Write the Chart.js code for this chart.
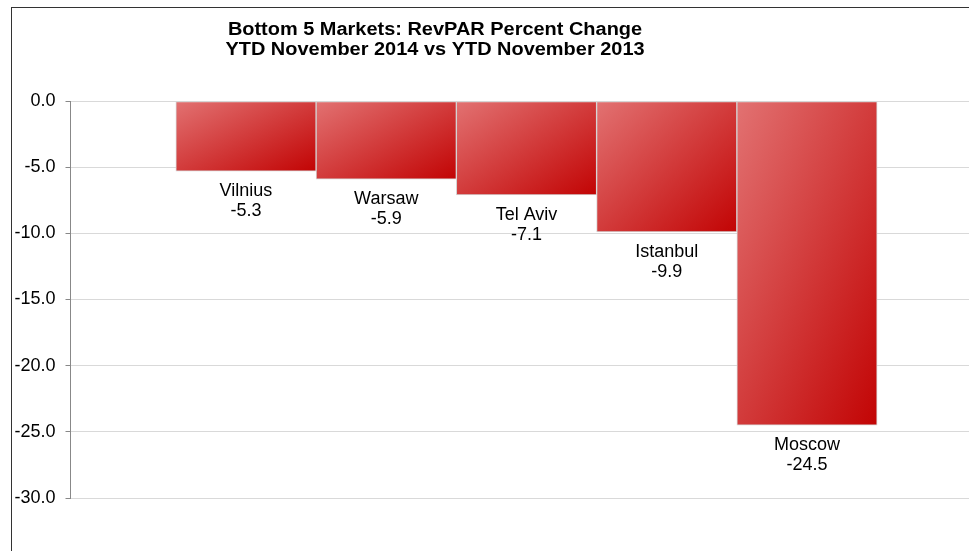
<!DOCTYPE html>
<html>
<head>
<meta charset="utf-8">
<script src="https://cdn.jsdelivr.net/npm/chart.js@4.4.1/dist/chart.umd.min.js"></script>
<style>
  html, body { margin: 0; padding: 0; background: #fff; overflow: hidden; }
  #wrap { position: relative; width: 969px; height: 551px; }
  #frame { position: absolute; left: 11px; top: 7px; width: 1000px; height: 600px; border: 1px solid #333; box-sizing: border-box; pointer-events: none; }
  canvas { position: absolute; left: 0; top: 0; }
</style>
</head>
<body>
<div id="wrap">
  <canvas id="barChart" width="969" height="551"></canvas>
  <div id="frame"></div>
</div>
<script>
const titleLines = ['Bottom 5 Markets: RevPAR Percent Change', 'YTD November 2014 vs YTD November 2013'];
const markets = ['Vilnius', 'Warsaw', 'Tel Aviv', 'Istanbul', 'Moscow'];
const revparChange = [-5.3, -5.9, -7.1, -9.9, -24.5];
const yTicks = [0, -5, -10, -15, -20, -25, -30];

const FONT = '"Liberation Sans", Arial, sans-serif';

// diagonal red gradient per bar (corner to corner, like the original fill)
const barGradient = (context) => {
  const chart = context.chart;
  if (!chart.chartArea) return '#d84040';
  const i = context.dataIndex;
  const xs = chart.scales.x;
  const ys = chart.scales.y;
  const w = Math.abs(xs.getPixelForValue(1) - xs.getPixelForValue(0));
  const top = ys.getPixelForValue(0);
  const bottom = ys.getPixelForValue(revparChange[i]);
  const h = bottom - top;
  const cx = xs.getPixelForValue(i);
  const cy = (top + bottom) / 2;
  const len = Math.sqrt(w * w + h * h);
  const d = (w * h) / len;
  const ux = h / len;
  const uy = w / len;
  const g = chart.ctx.createLinearGradient(cx - ux * d, cy - uy * d, cx + ux * d, cy + uy * d);
  g.addColorStop(0, '#e27272');
  g.addColorStop(1, '#c20404');
  return g;
};

// title is a bit wide in the original, so stretch it horizontally
const titlePlugin = {
  id: 'titlePlugin',
  afterDraw(chart) {
    const ctx = chart.ctx;
    ctx.save();
    ctx.fillStyle = '#000';
    ctx.font = 'bold 17.5px ' + FONT;
    ctx.textAlign = 'center';
    ctx.textBaseline = 'middle';
    [30, 50].forEach((y, k) => {
      ctx.save();
      ctx.translate(435, y);
      ctx.scale(1.14, 1);
      ctx.fillText(titleLines[k], 0, 0);
      ctx.restore();
    });
    ctx.restore();
  },
};

const barLabels = {
  id: 'barLabels',
  afterDatasetsDraw(chart) {
    const ctx = chart.ctx;
    const meta = chart.getDatasetMeta(0);
    ctx.save();
    ctx.fillStyle = '#000';
    ctx.font = '18px ' + FONT;
    ctx.textAlign = 'center';
    ctx.textBaseline = 'middle';
    meta.data.forEach((bar, i) => {
      ctx.fillText(markets[i], bar.x, bar.y + 20);
      ctx.fillText(revparChange[i].toFixed(1), bar.x, bar.y + 40);
    });
    ctx.restore();
  },
};

new Chart(document.getElementById('barChart'), {
  type: 'bar',
  data: {
    datasets: [
      {
        label: 'RevPAR % change',
        data: revparChange.map((v, i) => ({ x: i, y: v })),
        backgroundColor: barGradient,
        borderColor: '#d4d4d4',
        borderWidth: 1,
        borderSkipped: false,
        barPercentage: 1,
        categoryPercentage: 1,
      },
    ],
  },
  options: {
    responsive: false,
    animation: false,
    layout: { padding: { top: 101, right: 0, bottom: 53, left: 0 } },
    plugins: {
      legend: { display: false },
      tooltip: { enabled: false },
    },
    scales: {
      x: {
        type: 'linear',
        min: -1.251,
        max: 5.155,
        offset: false,
        display: false,
      },
      y: {
        min: -30,
        max: 0,
        afterFit: (scale) => { scale.width = 70.5; },
        afterBuildTicks: (scale) => { scale.ticks = yTicks.map((v) => ({ value: v })); },
        ticks: {
          color: '#000',
          font: { family: FONT, size: 18 },
          padding: 10,
          callback: (v) => v.toFixed(1),
        },
        grid: {
          color: '#d9d9d9',
          tickColor: '#888',
          tickLength: 5,
        },
        border: { color: '#888', width: 1 },
      },
    },
  },
  plugins: [titlePlugin, barLabels],
});
</script>
</body>
</html>
